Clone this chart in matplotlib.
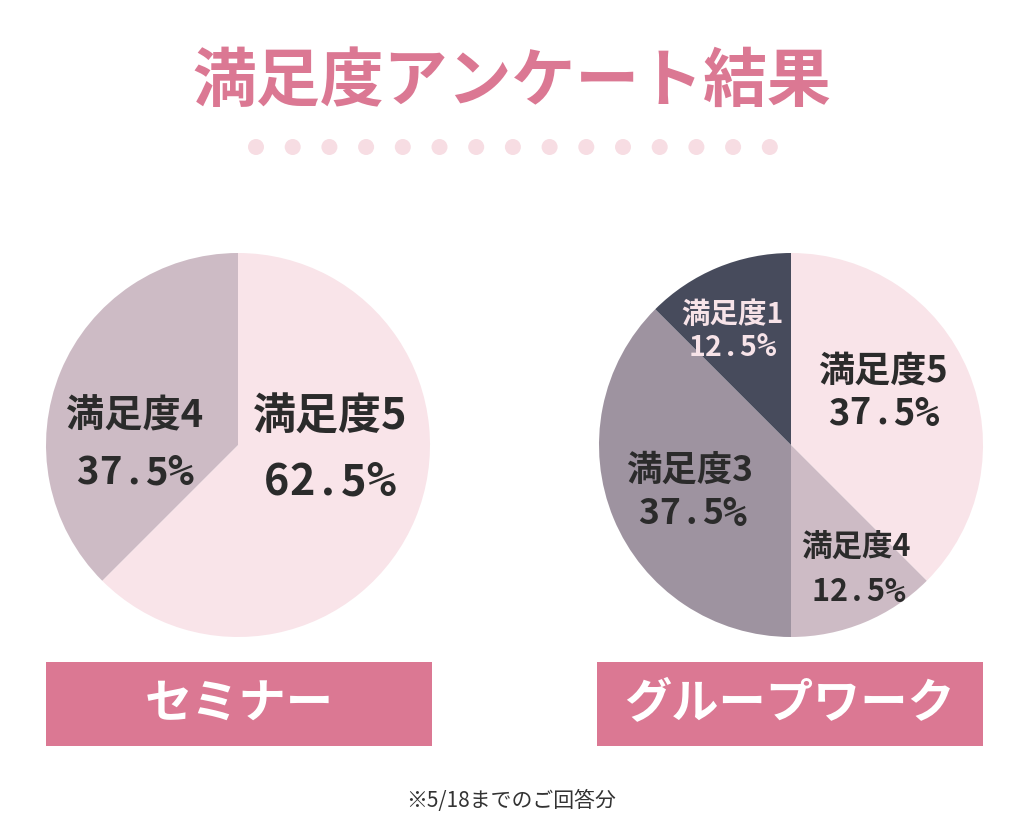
import matplotlib
matplotlib.use("Agg")
import matplotlib.pyplot as plt
from matplotlib.patches import Rectangle, Circle

plt.rcParams['font.family'] = ['Noto Sans CJK JP', 'DejaVu Sans']

W, H = 1024, 819

# ---- data ----
title = "満足度アンケート結果"
footnote = "※5/18までのご回答分"

seminar_name = "セミナー"
seminar_labels = ["満足度5", "満足度4"]
seminar_values = [62.5, 37.5]

group_name = "グループワーク"
group_labels = ["満足度5", "満足度4", "満足度3", "満足度1"]
group_values = [37.5, 12.5, 37.5, 12.5]

# ---- style ----
PINK = "#DB7893"
DOT = "#F7DDE3"
C5 = "#F9E4E9"
C4 = "#CDBBC5"
C3 = "#9E93A0"
C1 = "#474B5C"
DARK = "#2B2B2B"

seminar_colors = [C5, C4]
group_colors = [C5, C4, C3, C1]

# label layout (pixel positions, y from top): (name_xy, pct_xy, fontsize, color)
seminar_label_layout = [((330, 417), (328, 482), 31, DARK),
                        ((135, 416), (133, 473), 27.5, DARK)]
group_label_layout = [((883, 371), (882, 414), 26, DARK),
                      ((856, 548), (857, 592), 22, DARK),
                      ((690, 470), (691, 514), 25.5, DARK),
                      ((732, 315), (731, 348), 20.5, "#F7E3E8")]


def Y(py):
    return H - py


fig = plt.figure(figsize=(W / 100, H / 100), dpi=100)
fig.patch.set_facecolor("white")
ax = fig.add_axes([0, 0, 1, 1])


def spaced(x, y, s, size, color, cell_em=0.6):
    cell = cell_em * size * 100 / 72
    n = len(s)
    for i, ch in enumerate(s):
        if ch == '%':
            fam, fs, dx = ['DejaVu Sans Mono'], size * 1.12, 0.05 * cell
        else:
            fam, fs, dx = ['Noto Sans CJK JP', 'DejaVu Sans'], size, 0
        ax.text(x + (i - (n - 1) / 2) * cell + dx, y, ch, ha='center', va='center',
                fontsize=fs, fontweight='bold', color=color, family=fam)


def draw_pie(values, labels, colors, layout, center_px):
    ax.pie(values, colors=colors, startangle=90, counterclock=False,
           center=(center_px[0], Y(center_px[1])), radius=192,
           wedgeprops=dict(linewidth=0))
    for v, lab, (nxy, pxy, fs, col) in zip(values, labels, layout):
        ax.text(nxy[0], Y(nxy[1]), lab, ha='center', va='center',
                fontsize=fs, fontweight='bold', color=col)
        spaced(pxy[0], Y(pxy[1]), f"{v:.1f}%", fs, col)


draw_pie(seminar_values, seminar_labels, seminar_colors, seminar_label_layout, (238, 445))
draw_pie(group_values, group_labels, group_colors, group_label_layout, (791, 445))

# title
ax.text(512, Y(82), title, ha='center', va='center', fontsize=46,
        fontweight='bold', color=PINK)

# dotted decoration
for i in range(15):
    ax.add_patch(Circle((256 + i * 36.7, Y(147)), 8, color=DOT, lw=0))

# name boxes
for (x0, x1), name in [((46, 432), seminar_name), ((597, 983), group_name)]:
    ax.add_patch(Rectangle((x0, Y(746)), x1 - x0, 84, color=PINK, lw=0))
    ax.text((x0 + x1) / 2, Y(704), name, ha='center', va='center',
            fontsize=34, fontweight='bold', color='white')

ax.text(511, Y(801), footnote, ha='center', va='center', fontsize=15, color="#333333")

ax.set_xlim(0, W)
ax.set_ylim(0, H)
ax.set_aspect('auto')
ax.axis('off')

fig.savefig("out.png", dpi=100, facecolor="white")
